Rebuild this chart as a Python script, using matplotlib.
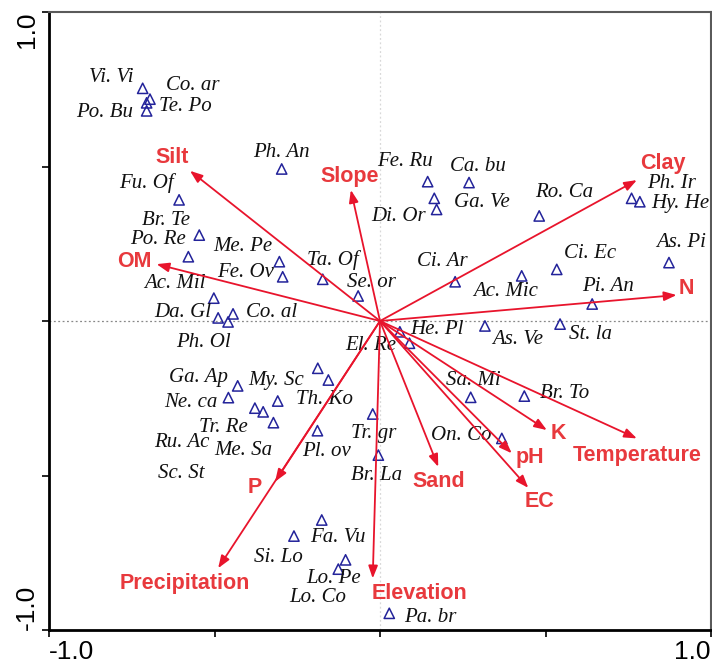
import matplotlib
matplotlib.use("Agg")
import matplotlib.pyplot as plt

# ---------------- data ----------------
species = ["Vi. Vi", "Co. ar", "Te. Po", "Po. Bu", "Ph. An", "Fu. Of", "Br. Te", "Po. Re",
           "Me. Pe", "Fe. Ov", "Ta. Of", "Se. or", "Ac. Mil", "Da. Gl", "Co. al", "Ph. Ol",
           "Ga. Ap", "Ne. ca", "My. Sc", "Th. Ko", "Tr. Re", "Ru. Ac", "Me. Sa", "Sc. St",
           "Pl. ov", "Fa. Vu", "Si. Lo", "Lo. Pe", "Lo. Co", "He. Pl", "El. Re", "As. Ve",
           "St. la", "Sa. Mi", "Br. To", "Tr. gr", "Br. La", "On. Co", "Pa. br", "Fe. Ru",
           "Ca. bu", "Ga. Ve", "Di. Or", "Ro. Ca", "Ph. Ir", "Hy. He", "As. Pi", "Ci. Ec",
           "Ac. Mic", "Ci. Ar", "Pi. An"]
species_x = [-0.717, -0.695, -0.705, -0.705, -0.297, -0.607, -0.546, -0.579,
             -0.304, -0.294, -0.173, -0.066, -0.502, -0.489, -0.444, -0.459,
             -0.430, -0.458, -0.188, -0.156, -0.378, -0.353, -0.322, -0.309,
             -0.189, -0.176, -0.260, -0.104, -0.126, 0.060, 0.089, 0.317,
             0.544, 0.274, 0.436, -0.022, -0.005, 0.368, 0.028, 0.144,
             0.269, 0.164, 0.171, 0.481, 0.760, 0.785, 0.873, 0.534,
             0.428, 0.227, 0.641]
species_y = [0.753, 0.718, 0.706, 0.680, 0.492, 0.392, 0.278, 0.208,
             0.192, 0.143, 0.135, 0.081, 0.074, 0.010, 0.023, -0.003,
             -0.210, -0.248, -0.153, -0.191, -0.282, -0.294, -0.329, -0.259,
             -0.355, -0.644, -0.696, -0.773, -0.803, -0.035, -0.072, -0.016,
             -0.010, -0.247, -0.243, -0.301, -0.434, -0.380, -0.946, 0.451,
             0.448, 0.397, 0.361, 0.340, 0.397, 0.386, 0.189, 0.167,
             0.146, 0.127, 0.055]

env_vars = ["Silt", "OM", "Slope", "Clay", "N", "Temperature", "K", "pH", "EC",
            "Sand", "Elevation", "P", "Precipitation"]
env_x = [-0.574, -0.675, -0.088, 0.776, 0.896, 0.776, 0.504, 0.398, 0.448,
         0.176, -0.022, -0.317, -0.489]
env_y = [0.486, 0.184, 0.424, 0.456, 0.084, -0.380, -0.353, -0.428, -0.540,
         -0.472, -0.833, -0.520, -0.800]

# ---------------- layout (label offsets in pixels, x right / y up) ----------------
species_offsets = [(-31, 11), (43, 14), (39, -4), (-42, -2), (0, 16), (-33, 17), (-33, 15), (-30, 17),
                   (-37, 15), (-37, 4), (10, 19), (13, 13), (-39, 15), (-35, 5), (39, 1), (-25, -21),
                   (-39, 8), (-38, -5), (-42, -12), (-4, -19), (-32, -19), (-81, -31), (-30, -28), (-96, -72),
                   (9, -21), (16, -18), (-16, -21), (-12, -19), (-21, -28), (37, 2), (-39, -2), (33, -14),
                   (30, -10), (3, 17), (40, 3), (1, -19), (-2, -20), (-41, 3), (41, -4), (-23, 20),
                   (9, 16), (48, -4), (-38, -7), (25, 23), (40, 15), (40, -2), (12, 20), (33, 16),
                   (-16, -16), (-13, 20), (16, 18)]
env_offsets = [(-18, 13), (-22, 3), (-1, 13), (26, 17), (10, 7), (0, -17), (12, -3), (18, -4),
               (11, -14), (0, -15), (47, -15), (-20, -6), (-33, -15)]

arrow_color = "#e8142c"
label_red = "#e8393d"
tri_color = "#23239a"

fig = plt.figure(figsize=(7.12, 6.64), dpi=100)
ax = fig.add_axes([49 / 712, 1 - 630 / 664, 662 / 712, 618 / 664])
ax.set_xlim(-1, 1)
ax.set_ylim(-1, 1)

# origin reference lines
ax.axhline(0, color="#888888", lw=0.9, ls=(0, (1.5, 2)), zorder=1)
ax.axvline(0, color="#d8d8d8", lw=0.9, ls=(0, (1.5, 2)), zorder=1)

# species
ax.scatter(species_x, species_y, marker="^", s=55, facecolors="none",
           edgecolors=tri_color, linewidths=1.1, zorder=3)
for name, x, y, off in zip(species, species_x, species_y, species_offsets):
    ax.annotate(name, (x, y), xytext=off, textcoords="offset pixels",
                ha="center", va="center", fontsize=15, style="italic",
                family="Liberation Serif", color="#111111", zorder=4,
                annotation_clip=False)

# environmental arrows
for name, x, y, off in zip(env_vars, env_x, env_y, env_offsets):
    ax.annotate("", xy=(x, y), xytext=(0, 0),
                arrowprops=dict(arrowstyle="-|>,head_length=0.75,head_width=0.28",
                                color=arrow_color, lw=1.3, shrinkA=0, shrinkB=0),
                zorder=5)
    ax.annotate(name, (x, y), xytext=off, textcoords="offset pixels",
                ha="center", va="center", fontsize=15.5, fontweight="bold",
                family="Liberation Sans", color=label_red, zorder=6,
                annotation_clip=False)

# ticks
ticks = [-1, -0.5, 0, 0.5, 1]
ax.set_xticks(ticks)
ax.set_yticks(ticks)
ax.set_xticklabels(["-1.0", "", "", "", "1.0"], family="Liberation Sans", fontsize=19)
ax.set_yticklabels(["-1.0", "", "", "", "1.0"], family="Liberation Sans", fontsize=19,
                   rotation=90)
ax.tick_params(direction="out", length=5, width=1.2)
ax.tick_params(axis="x", pad=2)
ax.tick_params(axis="y", pad=11)
xl = ax.get_xticklabels()
xl[0].set_ha("left")
xl[-1].set_ha("right")
yl = ax.get_yticklabels()
yl[0].set_va("bottom")
yl[-1].set_va("top")
for lab in yl:
    lab.set_ha("center")

for side in ["left", "bottom"]:
    ax.spines[side].set_color("black")
    ax.spines[side].set_linewidth(2)
for side in ["top", "right"]:
    ax.spines[side].set_color("#5a5a5a")
    ax.spines[side].set_linewidth(1.5)

fig.savefig("out.png", dpi=100)
